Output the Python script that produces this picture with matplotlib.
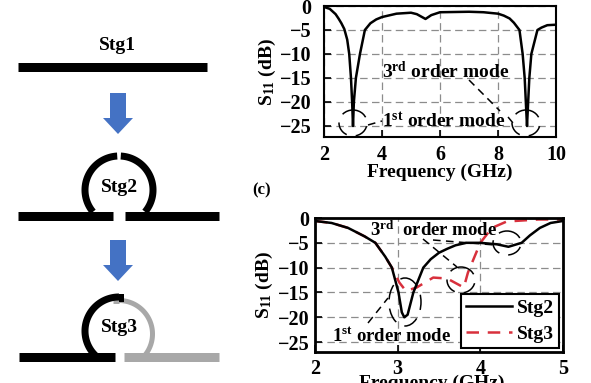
import numpy as np
import matplotlib
matplotlib.use("Agg")
import matplotlib.pyplot as plt
from matplotlib.patches import Ellipse, FancyArrow

plt.rcParams['font.family'] = ['Liberation Serif', 'DejaVu Serif']
plt.rcParams['font.weight'] = 'bold'
plt.rcParams['mathtext.fontset'] = 'custom'
plt.rcParams['mathtext.rm'] = 'Liberation Serif:bold'
plt.rcParams['mathtext.bf'] = 'Liberation Serif:bold'
plt.rcParams['mathtext.it'] = 'Liberation Serif:bold'

# =============================================================================
# Data
# =============================================================================
freq_b = [2, 2.2, 2.4, 2.5, 2.6, 2.7, 2.8, 2.87, 2.93, 2.97, 3, 3.03, 3.1, 3.24, 3.41, 3.6, 3.8, 4,
          4.5, 5, 5.2, 5.5, 5.7, 6, 7, 7.5, 8, 8.2, 8.4, 8.55, 8.74, 8.85, 8.92, 8.96, 9,
          9.04, 9.08, 9.15, 9.36, 9.5, 9.7, 10]
s11_b = [-0.2, -0.6, -1.7, -2.6, -3.6, -4.8, -7, -10, -15, -20, -25, -20, -15, -10, -5, -3.6, -2.8, -2.3,
         -1.6, -1.4, -1.7, -2.7, -1.9, -1.3, -1.2, -1.3, -1.6, -2, -2.6, -3.5, -5, -10, -15, -20, -25,
         -20, -15, -10, -5, -4.5, -4, -3.9]

freq_stg2 = [2, 2.2, 2.4, 2.6, 2.73, 2.85, 2.93, 3.01, 3.05, 3.08, 3.12, 3.19, 3.31, 3.4, 3.5, 3.6, 3.7,
             3.83, 4, 4.2, 4.34, 4.5, 4.6, 4.72, 4.85, 5]
s11_stg2 = [-0.6, -1, -2, -3.7, -5, -7.8, -10, -15, -19, -20, -19.5, -15, -10, -8.3, -7, -6.2, -5.5,
            -5, -5, -5.3, -5.8, -5, -3.5, -2, -1, -0.6]

freq_stg3 = [2, 2.2, 2.4, 2.6, 2.73, 2.85, 2.93, 3.02, 3.1, 3.23, 3.43, 3.6, 3.8, 3.85, 4, 4.14, 4.32, 4.7, 5]
s11_stg3 = [-0.6, -1, -2, -3.7, -5, -7.8, -10, -13, -14.7, -14, -12, -12.2, -14, -11, -5, -2, -0.7, -0.3, -0.3]

y_ticks = [0, -5, -10, -15, -20, -25]
x_ticks_b = [2, 4, 6, 8, 10]
x_ticks_c = [2, 3, 4, 5]

W, H = 591, 383


def px_axes(left, right, top, bottom):
    return fig.add_axes([left / W, 1 - bottom / H, (right - left) / W, (bottom - top) / H])


def style_axes(ax, xticks, xlim, ylim, lw, pad_y):
    ax.set_xlim(*xlim)
    ax.set_ylim(*ylim)
    ax.set_xticks(xticks)
    ax.set_yticks(y_ticks)
    ax.grid(True, color='#8c8c8c', linestyle=(0, (6, 3.5)), linewidth=0.9)
    ax.set_axisbelow(True)
    ax.tick_params(axis='both', direction='in', length=5, width=1.2, labelsize=14.5)
    ax.tick_params(axis='y', pad=pad_y)
    for s in ax.spines.values():
        s.set_linewidth(lw)


fig = plt.figure(figsize=(W / 100, H / 100), dpi=100)

# =============================================================================
# Top plot
# =============================================================================
ax_b = px_axes(324, 556, 6, 137)
ax_b.plot(freq_b, s11_b, 'k-', linewidth=1.8)
style_axes(ax_b, x_ticks_b, (2, 10), (-27.3, 0), 1.5, 9)
ax_b.tick_params(axis='x', pad=6)
ax_b.set_xlabel("Frequency (GHz)", fontsize=14, fontweight='bold', labelpad=-1)
ax_b.set_ylabel(r"S$_{\mathbf{11}}$ (dB)", fontsize=14, fontweight='bold', labelpad=1)

# =============================================================================
# Bottom plot
# =============================================================================
ax_c = px_axes(315, 563, 218, 352)
ax_c.plot(freq_stg3, s11_stg3, color='#d8303c', linestyle=(0, (5, 3.5)), linewidth=1.8, label='Stg3')
ax_c.plot(freq_stg2, s11_stg2, 'k-', linewidth=1.8, label='Stg2')
style_axes(ax_c, x_ticks_c, (2, 5), (-27, 0), 2, 4)
ax_c.tick_params(axis='x', pad=5)
ax_c.set_xlabel("Frequency (GHz)", fontsize=14, fontweight='bold', labelpad=-3)
ax_c.xaxis.label.set_x(0.47)
ax_c.set_ylabel(r"S$_{\mathbf{11}}$ (dB)", fontsize=14, fontweight='bold', labelpad=2)
handles, labels = ax_c.get_legend_handles_labels()
leg = ax_c.legend(handles[::-1], labels[::-1], loc='lower right', bbox_to_anchor=(0.985, 0.03),
                  borderaxespad=0, fontsize=14, fancybox=False, framealpha=1, edgecolor='k',
                  handlelength=2.4, handletextpad=0.25, labelspacing=0.45, borderpad=0.25)
leg.get_frame().set_linewidth(1.5)

# =============================================================================
# Overlay in pixel coordinates: schematic and annotations
# =============================================================================
ov = fig.add_axes([0, 0, 1, 1], zorder=5)
ov.set_xlim(0, W)
ov.set_ylim(H, 0)
ov.axis('off')
ov.patch.set_alpha(0)


def bar(x0, x1, y, h=9, color='k'):
    ov.plot([x0, x1], [y, y], color=color, linewidth=h * 0.72, solid_capstyle='butt')


def arc(cx, cy, r, a0, a1, color='k', h=7):
    t = np.radians(np.linspace(a0, a1, 80))
    ov.plot(cx + r * np.cos(t), cy - r * np.sin(t), color=color, linewidth=h * 0.72,
            solid_capstyle='butt')


def down_arrow(x, y0, y1):
    ov.add_patch(FancyArrow(x, y0, 0, y1 - y0, width=16, head_width=30, head_length=16,
                            length_includes_head=True, color='#4472c4', linewidth=0))


def dashed(x0, y0, x1, y1):
    ov.plot([x0, x1], [y0, y1], color='k', linewidth=1.1, linestyle=(0, (5, 3.5)))


def ring(cx, cy, rx, ry):
    ov.add_patch(Ellipse((cx, cy), 2 * rx, 2 * ry, fill=False, edgecolor='k', linewidth=1.1,
                         linestyle=(0, (10, 6))))


ov.text(117, 46, "Stg1", fontsize=14, ha='center', va='center')
bar(18, 207, 67)
down_arrow(118, 93, 134)

ov.text(120, 187, "Stg2", fontsize=14, ha='center', va='center')
bar(18, 113, 215.5)
bar(124.5, 219, 215.5)
arc(119, 190, 34, 93, 220)
arc(119, 190, 34, 87, -40)
down_arrow(118, 240, 281)

ov.text(119, 328, "Stg3", fontsize=14, ha='center', va='center')
bar(124, 219, 356.5, color='#a8a8a8')
arc(119, 334, 33.5, 90, -40, color='#a8a8a8', h=5)
bar(113, 119, 300.5, h=5, color='#a8a8a8')
bar(19, 115, 356.5)
arc(119, 331, 34, 226, 90)
bar(119, 124, 297.5, h=8)

# annotations, top plot
ov.text(382, 71, r"3$^{\mathbf{rd}}$ order mode", fontsize=14, va='center')
ov.text(382, 121, r"1$^{\mathbf{st}}$ order mode", fontsize=14, va='center')
ring(353, 123, 14, 13)
ring(526, 123, 14, 13)
dashed(368, 125, 382, 121)
dashed(469, 80, 500, 111)
dashed(508, 117, 513, 123)

# annotations, bottom plot
ov.text(370, 230, r"3$^{\mathbf{rd}}$  order mode", fontsize=13.5, va='center')
ov.text(332, 336, r"1$^{\mathbf{st}}$ order mode", fontsize=13.5, va='center')
ring(405, 302, 16, 24)
ring(461, 280, 14, 13)
ring(507, 243, 14, 12)
dashed(368, 323, 388, 298)
dashed(423, 239, 457, 267)
dashed(433, 240, 495, 245)

ov.text(252, 190, "(c)", fontsize=12, va='center')

fig.savefig("out.png", dpi=100)
